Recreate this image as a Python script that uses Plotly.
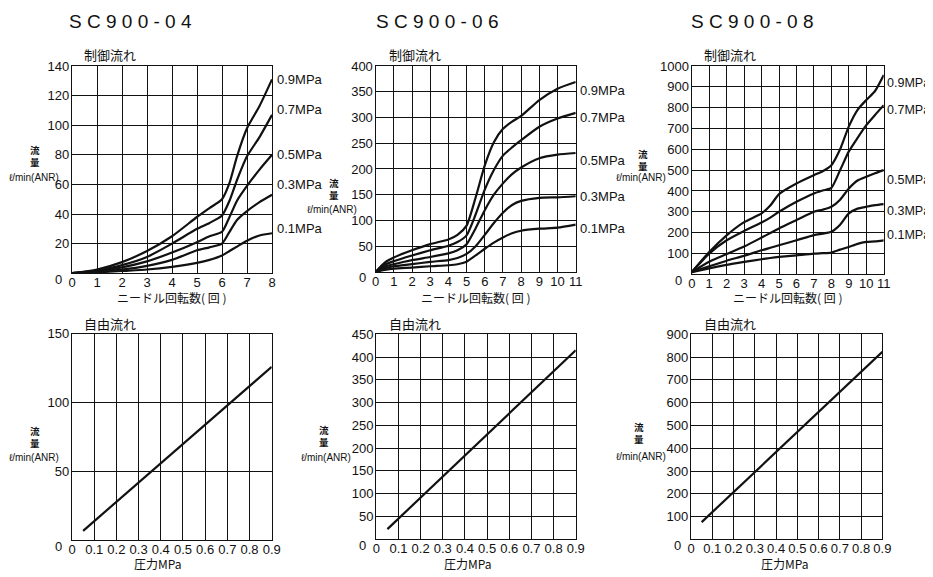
import plotly.graph_objects as go

# ---------------- data ----------------
pressures = ["0.9MPa", "0.7MPa", "0.5MPa", "0.3MPa", "0.1MPa"]

# SC900-04 control flow (needle turns -> flow l/min(ANR))
turns_04 = [0, 1, 2, 3, 4, 5, 5.5, 6, 6.3, 6.6, 7, 7.5, 8]
flow_04 = {
    "0.9MPa": [0, 2.5, 7.5, 15, 25, 38, 44, 50, 61, 79, 98, 113, 131],
    "0.7MPa": [0, 2, 5.5, 11, 20, 30, 34, 39, 49, 63, 79, 92, 107],
    "0.5MPa": [0, 1.5, 4, 8, 14, 21, 25, 28, 38, 49, 59, 70, 80],
    "0.3MPa": [0, 1, 2.5, 5, 9, 15.5, 17.5, 20, 28, 36, 42, 48, 53],
    "0.1MPa": [0, 0.5, 1.5, 2.5, 4.3, 7, 9, 12, 15, 18, 22, 25.5, 27],
}

# SC900-06 control flow
turns_06 = [0, 0.5, 1, 2, 3, 4, 4.5, 5, 5.5, 6, 6.5, 7, 7.5, 8, 9, 10, 11]
flow_06 = {
    "0.9MPa": [0, 18, 28, 42, 54, 63, 72, 90, 145, 207, 252, 278, 292, 303, 334, 356, 369],
    "0.7MPa": [0, 14, 21, 32, 42, 51, 58, 71, 112, 160, 198, 226, 242, 256, 282, 298, 309],
    "0.5MPa": [0, 10, 15, 23, 29, 36, 42, 54, 85, 120, 150, 172, 190, 203, 221, 228, 231],
    "0.3MPa": [0, 7, 11, 15, 19.5, 23, 27, 35, 50, 72, 95, 115, 130, 138, 144, 145, 147],
    "0.1MPa": [0, 4, 6.5, 8.5, 11, 13, 15, 20, 32, 45, 57, 67, 75, 80, 84, 86, 92],
}

# SC900-08 control flow
turns_08 = [0, 1, 2, 3, 4, 4.5, 5, 6, 7, 7.5, 8, 8.5, 9, 9.5, 10, 10.5, 11]
flow_08 = {
    "0.9MPa": [10, 107, 187, 250, 292, 330, 385, 436, 476, 495, 524, 600, 710, 790, 837, 880, 957],
    "0.7MPa": [10, 99, 163, 208, 248, 272, 300, 348, 388, 402, 415, 500, 590, 655, 716, 765, 812],
    "0.5MPa": [10, 60, 97, 133, 176, 198, 220, 260, 300, 310, 324, 358, 412, 450, 468, 485, 500],
    "0.3MPa": [10, 38, 65, 88, 115, 127, 139, 163, 188, 195, 204, 238, 292, 315, 324, 332, 337],
    "0.1MPa": [10, 28, 45, 59, 72, 78, 83, 91, 99, 101, 104, 118, 131, 146, 155, 158, 163],
}

# free flow (pressure MPa -> flow)
free_pressure = [0.05, 0.9]
free_04 = [7, 126]
free_06 = [22, 415]
free_08 = [76, 823]

pressure_ticks = [0, 0.1, 0.2, 0.3, 0.4, 0.5, 0.6, 0.7, 0.8, 0.9]
pressure_ticktext = ["0", "0.1", "0.2", "0.3", "0.4", "0.5", "0.6", "0.7", "0.8", "0.9"]

titles = ["SC900-04", "SC900-06", "SC900-08"]

# ---------------- layout ----------------
W, H = 933, 577
FONT = "Liberation Sans, Arial, Noto Sans CJK JP, sans-serif"
JFONT = "Noto Sans CJK JP, Liberation Sans, sans-serif"
NARROW = "Liberation Sans Narrow, Arial Narrow, Liberation Sans, sans-serif"

# calibration of the page photograph (screen px = offset + scale * figure px)
OX, SX, OY, SY = 11, 0.986, 15, 0.987


def px(x):
    return ((x - OX) / SX) / W


def py(y):
    return 1 - ((y - OY) / SY) / H


# panel boxes in screen pixels: left, right, top, bottom
boxes = [
    (71, 271, 66, 273),
    (374.6, 574.7, 66, 271.7),
    (690.7, 882.7, 66, 274),
    (71, 270.7, 333.5, 540),
    (375.3, 574.7, 334, 538.7),
    (690, 881.3, 334, 539),
]

fig = go.Figure()
annotations = []

control = [(turns_04, flow_04, 8, 140, 20), (turns_06, flow_06, 11, 400, 50), (turns_08, flow_08, 11, 1000, 100)]
free = [(free_04, 150, 50), (free_06, 450, 50), (free_08, 900, 100)]
label_nudge = [[0, -5, 0, -10, -5], [8, 5, 7, 0, 4], [8, 5, 10, 7, -5]]
label_left = [274, 577, 884]
label_size = [13, 13, 12.5]

for i in range(6):
    n = i + 1
    xa = "x" if n == 1 else f"x{n}"
    ya = "y" if n == 1 else f"y{n}"
    l, r, t, b = boxes[i]
    if i < 3:
        xs, flows, xmax, ymax, ystep = control[i]
        for k, name in enumerate(pressures):
            fig.add_trace(go.Scatter(x=xs, y=flows[name], mode="lines", xaxis=xa, yaxis=ya,
                                     line=dict(color="#111", width=2.2, shape="spline", smoothing=0.6),
                                     showlegend=False, hoverinfo="skip"))
            annotations.append(dict(x=px(label_left[i]), y=flows[name][-1], xref="paper", yref=ya, text=name,
                                    showarrow=False, xanchor="left", yanchor="middle",
                                    yshift=-label_nudge[i][k],
                                    font=dict(size=label_size[i], color="#111", family=FONT)))
        xaxis = dict(range=[0, xmax], tickvals=list(range(0, xmax + 1)))
    else:
        ys, ymax, ystep = free[i - 3]
        fig.add_trace(go.Scatter(x=free_pressure, y=ys, mode="lines", xaxis=xa, yaxis=ya,
                                 line=dict(color="#111", width=2.2), showlegend=False, hoverinfo="skip"))
        xaxis = dict(range=[0, 0.9], tickvals=pressure_ticks, ticktext=pressure_ticktext)

    xaxis.update(domain=[px(l), px(r)], anchor=ya, showline=True, mirror=True, linecolor="#111", linewidth=1.3,
                 showgrid=True, gridcolor="#111", gridwidth=1.1, zeroline=False,
                 ticks="", ticklabelstandoff=-3,
                 tickfont=dict(size=13, color="#111", family=FONT), fixedrange=True)
    yaxis = dict(domain=[py(b), py(t)], anchor=xa, range=[0, ymax],
                 tickvals=list(range(ystep, ymax + ystep, ystep)),
                 showline=True, mirror=True, linecolor="#111", linewidth=1.3,
                 showgrid=True, gridcolor="#111", gridwidth=1.1, zeroline=False,
                 ticks="", ticklabelstandoff=-1,
                 tickfont=dict(size=13, color="#111", family=FONT), fixedrange=True)
    fig.update_layout(**{("xaxis" if n == 1 else f"xaxis{n}"): xaxis,
                         ("yaxis" if n == 1 else f"yaxis{n}"): yaxis})
    # y-axis zero label sits a little below the axis line in the original
    annotations.append(dict(x=px(l - 8), y=py(b + 6), xref="paper", yref="paper", text="0", showarrow=False,
                            xanchor="right", yanchor="middle",
                            font=dict(size=13, color="#111", family=FONT)))

# titles
title_left = [66, 373, 688]
for j in range(3):
    annotations.append(dict(x=px(title_left[j]), y=py(21.5), xref="paper", yref="paper",
                            text=" ".join(titles[j]), showarrow=False, xanchor="left", yanchor="middle",
                            font=dict(size=19, color="#111", family=FONT)))

# section subtitles
sub_left = [81, 386, 701]
for j in range(3):
    annotations.append(dict(x=px(sub_left[j]), y=py(54), xref="paper", yref="paper", text="制御流れ",
                            showarrow=False, xanchor="left", yanchor="middle",
                            font=dict(size=13, color="#111", family=JFONT)))
    annotations.append(dict(x=px(sub_left[j]), y=py(323), xref="paper", yref="paper", text="自由流れ",
                            showarrow=False, xanchor="left", yanchor="middle",
                            font=dict(size=13, color="#111", family=JFONT)))

# x-axis titles
for j in range(3):
    l, r, t, b = boxes[j]
    annotations.append(dict(x=px((l + r) / 2), y=py(297.5), xref="paper", yref="paper", text="ニードル回転数( 回 )",
                            showarrow=False, xanchor="center", yanchor="middle",
                            font=dict(size=12, color="#111", family=JFONT)))
press_cx = [157, 467, 784]
for j in range(3):
    annotations.append(dict(x=px(press_cx[j]), y=py(563.5), xref="paper", yref="paper", text="圧力MPa",
                            showarrow=False, xanchor="center", yanchor="middle",
                            font=dict(size=12, color="#111", family=JFONT)))

# y-axis titles: (x of 流量, y centre of 流量 block, x of unit, y of unit)
ylab = [
    (34, 156, 32.5, 177),
    (333, 189, 331, 209),
    (642, 160, 640, 177),
    (34, 437, 32.5, 457),
    (323, 436, 325, 457),
    (638, 433, 640, 456),
]
for (fx, fy, ux, uy) in ylab:
    annotations.append(dict(x=px(fx), y=py(fy), xref="paper", yref="paper", text="<b>流<br>量</b>",
                            showarrow=False, xanchor="center", yanchor="middle",
                            font=dict(size=9.5, color="#111", family=JFONT)))
    annotations.append(dict(x=px(ux), y=py(uy), xref="paper", yref="paper", text="ℓ/min(ANR)",
                            showarrow=False, xanchor="center", yanchor="middle",
                            font=dict(size=10, color="#111", family=NARROW)))

fig.update_layout(width=W, height=H, margin=dict(l=0, r=0, t=0, b=0),
                  paper_bgcolor="white", plot_bgcolor="white", annotations=annotations,
                  showlegend=False)

fig.write_html("out.html")
